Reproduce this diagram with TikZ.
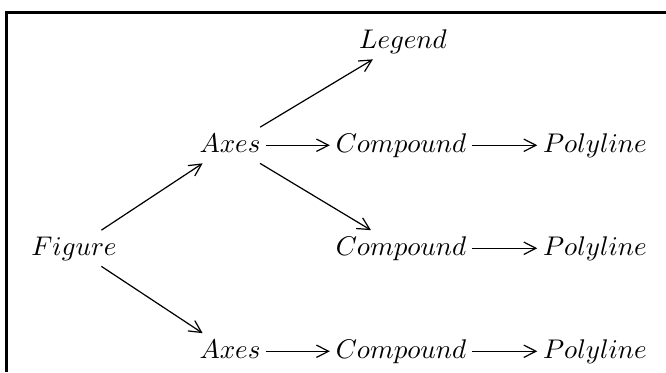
\documentclass[tikz,border=0pt]{standalone}
\usetikzlibrary{arrows.meta}
\begin{document}
\begin{tikzpicture}[x=0.37037pt,y=-0.37037pt]
  \tikzset{
    obj/.style={anchor=base, inner sep=2pt, text height=7pt, text depth=2pt},
    conn/.style={-{Straight Barb[length=4.5pt,width=4.6pt]}, line width=0.45pt},
    frameline/.style={line width=0.9pt}
  }
  \useasboundingbox (0,0) rectangle (666,372);

  % frame edges
  \coordinate (ftl) at (6.3,12.5);
  \coordinate (ftr) at (666,12.5);
  \coordinate (fbl) at (6.3,372);
  \draw[frameline] (ftr) -- (5,12.5) (ftl) -- (fbl);

  % objects
  \node[obj] (fig)  at (74,255)  {$Figure$};
  \node[obj] (axt)  at (230,152) {$Axes$};
  \node[obj] (axb)  at (230,358) {$Axes$};
  \node[obj] (leg)  at (403,48)  {$Legend$};
  \node[obj] (cpt)  at (401,152) {$Compound$};
  \node[obj] (cpm)  at (401,255) {$Compound$};
  \node[obj] (cpb)  at (401,358) {$Compound$};
  \node[obj] (plt)  at (595,152) {$Polyline$};
  \node[obj] (plm)  at (595,255) {$Polyline$};
  \node[obj] (plb)  at (595,358) {$Polyline$};

  % connectors
  \draw[conn] (fig) -- (axt);
  \draw[conn] (fig) -- (axb);
  \draw[conn] (axt) -- (leg);
  \draw[conn] (axt) -- (cpt);
  \draw[conn] (axt) -- (cpm);
  \draw[conn] (axb) -- (cpb);
  \draw[conn] (cpt) -- (plt);
  \draw[conn] (cpm) -- (plm);
  \draw[conn] (cpb) -- (plb);
\end{tikzpicture}
\end{document}
